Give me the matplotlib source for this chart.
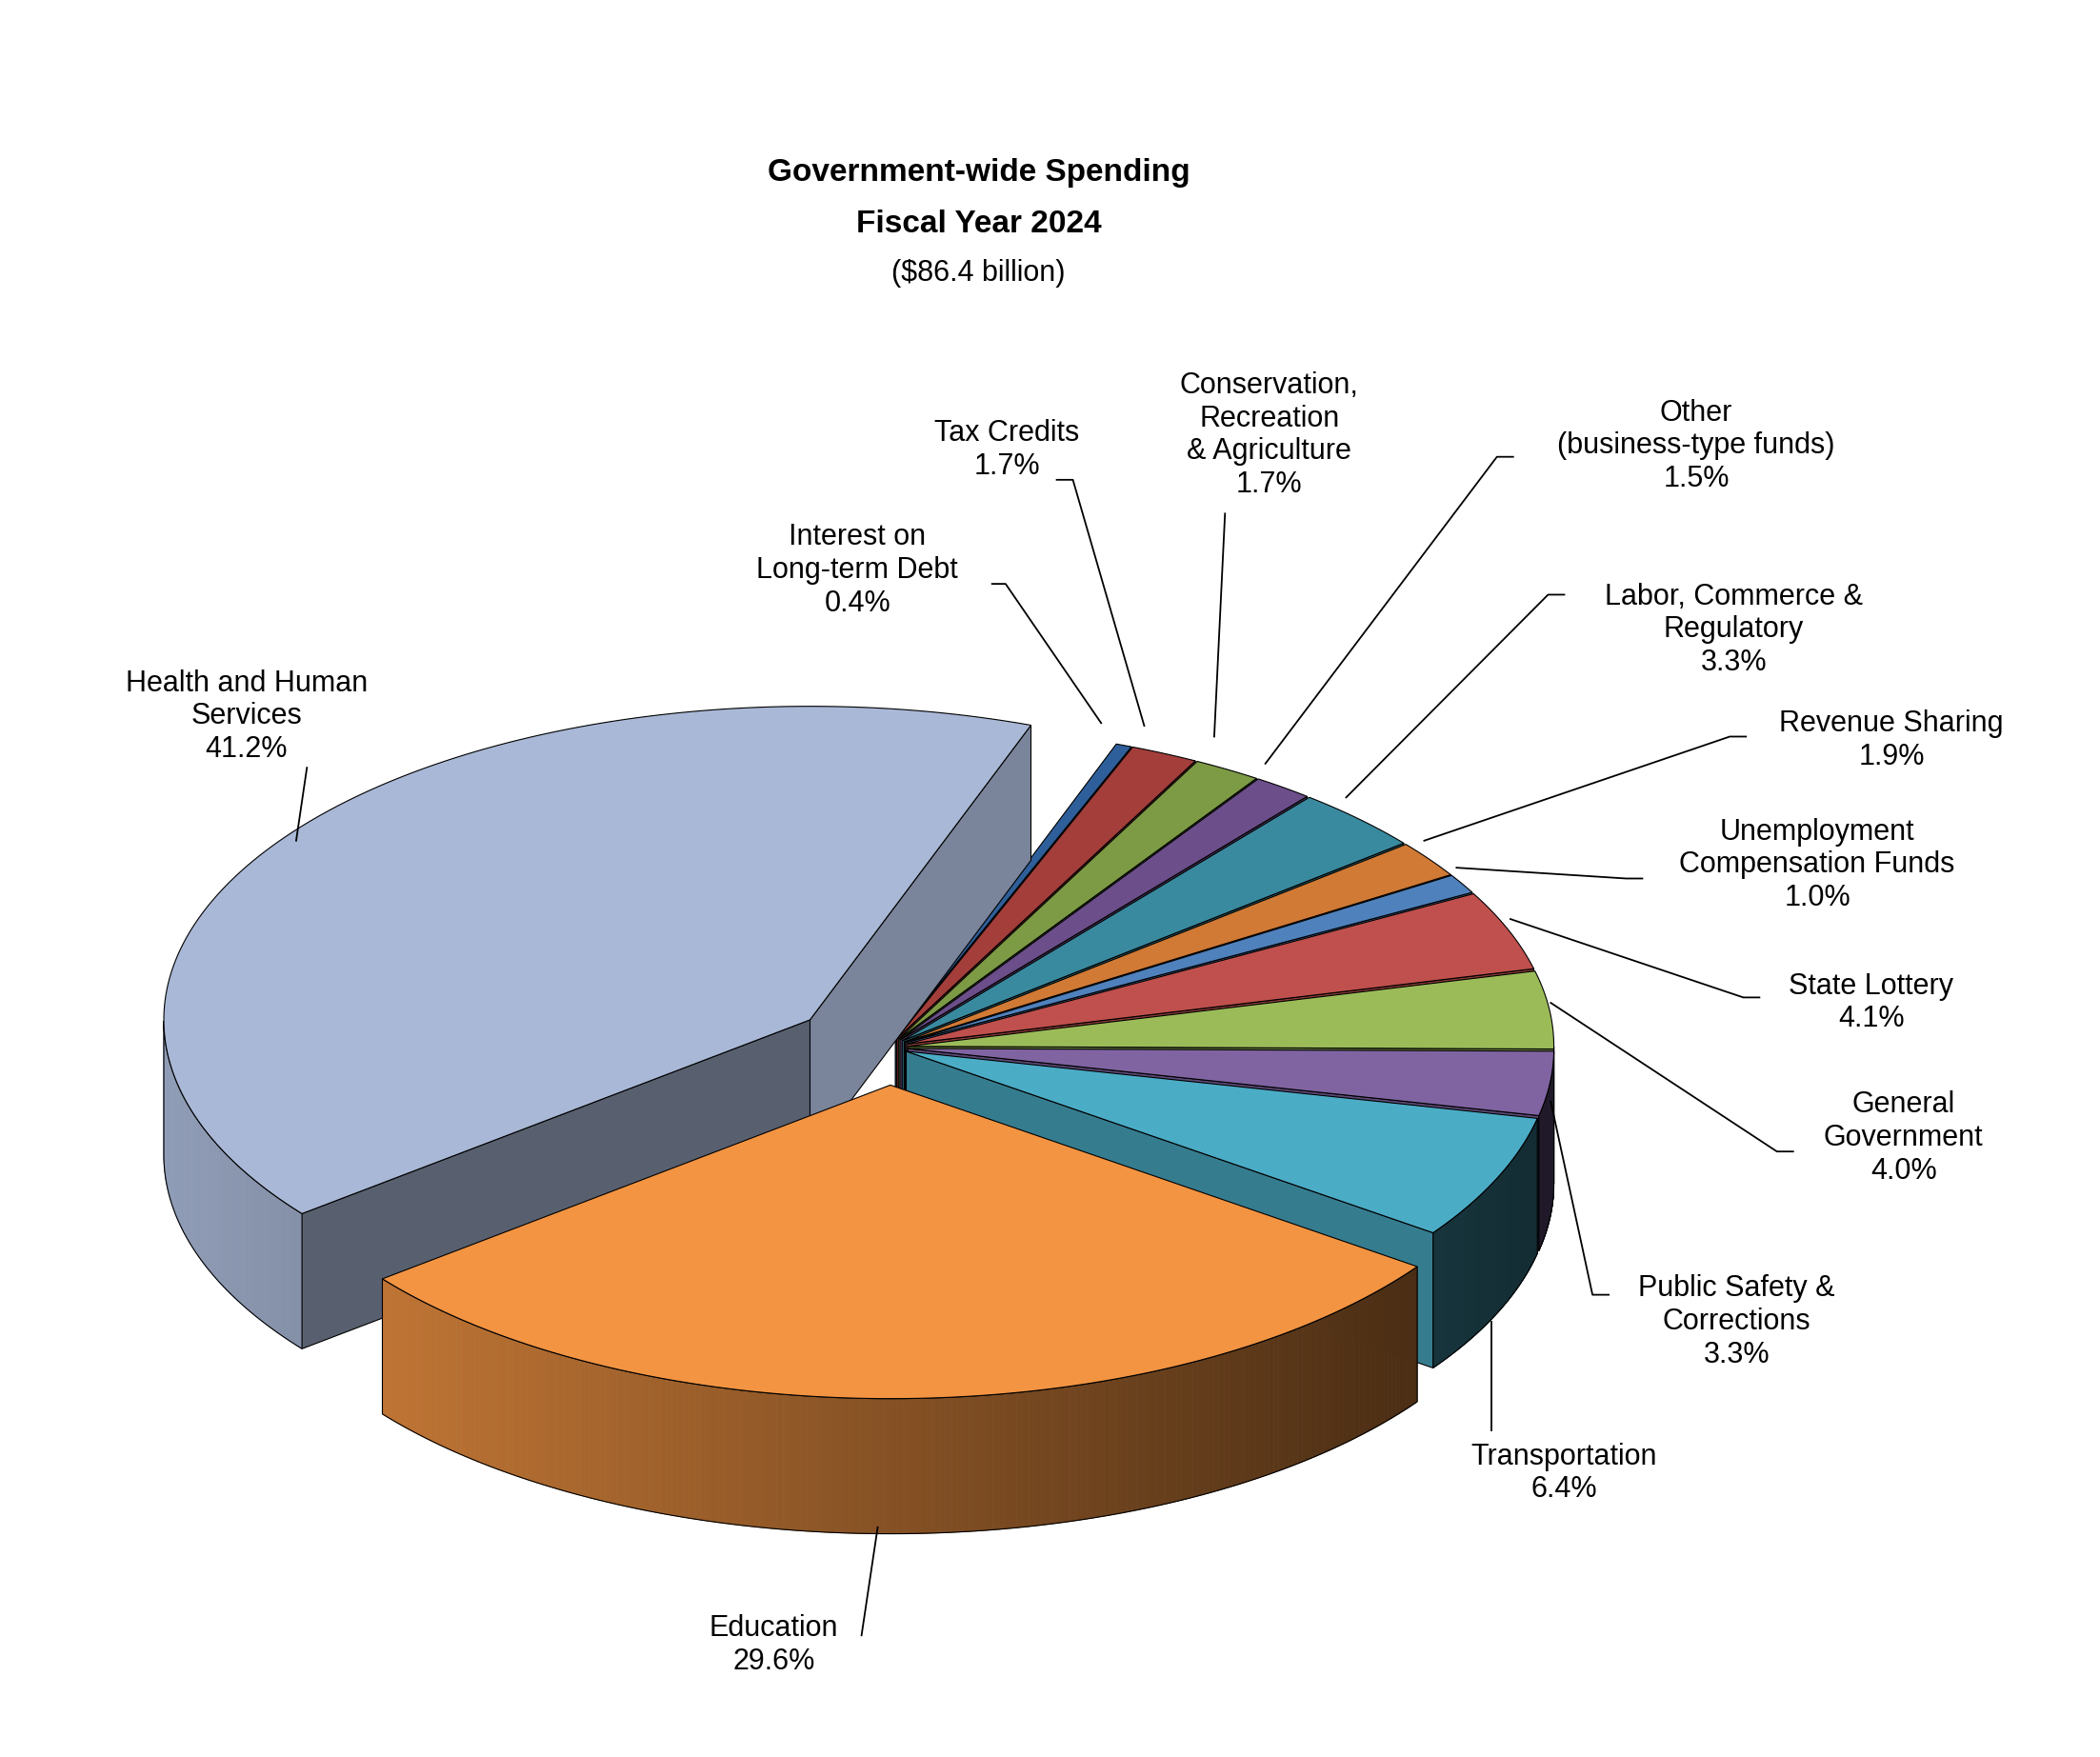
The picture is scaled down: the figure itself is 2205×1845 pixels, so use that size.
import numpy as np
import matplotlib.pyplot as plt
from matplotlib.patches import Polygon
from matplotlib.colors import to_rgb

plt.rcParams['font.family'] = 'Liberation Sans'

# === DATA ===
labels = ["Health and Human\nServices", "Education", "Transportation",
          "Public Safety &\nCorrections", "General\nGovernment", "State Lottery",
          "Unemployment\nCompensation Funds", "Revenue Sharing",
          "Labor, Commerce &\nRegulatory", "Other\n(business-type funds)",
          "Conservation,\nRecreation\n& Agriculture", "Tax Credits",
          "Interest on\nLong-term Debt"]
shares = [41.2, 29.6, 6.4, 3.3, 4.0, 4.1, 1.0, 1.9, 3.3, 1.5, 1.7, 1.7, 0.4]
colors = ["#A9B8D6", "#F39442", "#4BACC6", "#8064A2", "#9BBB59", "#C0504D",
          "#4F81BD", "#D07A35", "#3A8A9F", "#6B4E8A", "#7D9A45", "#A33E3B", "#2F5F9A"]
explode = [0.15, 0.12, 0.03, 0.03, 0.03, 0.03, 0.03, 0.03, 0.03, 0.03, 0.03, 0.03, 0.03]

# label text centre and leader line (display coords of a 1560x1300 canvas)
label_pos = [(183, 530), (575, 1217), (1162, 1090), (1290, 978), (1414, 842),
             (1390, 742), (1350, 640), (1405, 548), (1288, 466), (1260, 330),
             (943, 322), (748, 333), (637, 422)]
leaders = [[(228, 568), (220, 622)],
           [(640, 1210), (652, 1130)],
           [(1108, 1058), (1108, 978)],
           [(1195, 958), (1183, 958), (1152, 815)],
           [(1332, 852), (1320, 852), (1152, 742)],
           [(1307, 738), (1295, 738), (1122, 680)],
           [(1220, 650), (1208, 650), (1082, 642)],
           [(1297, 545), (1285, 545), (1058, 622)],
           [(1162, 440), (1150, 440), (1000, 590)],
           [(1124, 338), (1112, 338), (940, 565)],
           [(910, 380), (902, 545)],
           [(785, 355), (797, 355), (850, 537)],
           [(737, 432), (747, 432), (818, 535)]]

CX, CY, RX, RY, DEPTH = 660, 775, 480, 232, 100
START = 70.0

fig = plt.figure(figsize=(22.05, 18.45), dpi=100)
ax = fig.add_axes([0, 0, 1, 1])
ax.set_xlim(0, 1560)
ax.set_ylim(1300, 0)
ax.axis('off')


def shade(c, f):
    return tuple(min(1, v * f) for v in to_rgb(c))


def pt(cx, cy, t):
    return cx + RX * np.cos(t), cy - RY * np.sin(t)


slices = []
a = START
for i, s in enumerate(shares):
    d = s / sum(shares) * 360
    slices.append((i, a, a + d))
    a += d

# back to front
order = sorted(slices, key=lambda z: -np.sin(np.radians((z[1] + z[2]) / 2)))
kw = dict(ec='black', lw=0.8)
for i, a1, a2 in order:
    mid = np.radians((a1 + a2) / 2)
    cx = CX + explode[i] * RX * np.cos(mid)
    cy = CY - explode[i] * RY * np.sin(mid)
    t1, t2 = np.radians(a1), np.radians(a2)
    col = colors[i]
    # cut walls
    for t, vis, f in [(t1, np.cos(t1) > 0, 0.72), (t2, np.cos(t2) < 0, 0.52)]:
        if vis:
            x, y = pt(cx, cy, t)
            ax.add_patch(Polygon([(cx, cy), (x, y), (x, y + DEPTH), (cx, cy + DEPTH)],
                                 fc=shade(col, f), **kw))
    # outer wall (front half only), shaded strips
    ts = np.linspace(t1, t2, 200)
    front = np.sin(ts) < 0
    if front.any():
        tv = ts[front]
        for k in range(len(tv) - 1):
            xa, ya = pt(cx, cy, tv[k])
            xb, yb = pt(cx, cy, tv[k + 1])
            f = 0.55 - 0.3 * np.cos((tv[k] + tv[k + 1]) / 2)
            ax.add_patch(Polygon([(xa, ya), (xb, yb), (xb, yb + DEPTH), (xa, ya + DEPTH)],
                                 fc=shade(col, f), ec=shade(col, f), lw=0.6))
        xs, ys = pt(cx, cy, tv)
        outline = list(zip(xs, ys)) + list(zip(xs[::-1], ys[::-1] + DEPTH))
        ax.add_patch(Polygon(outline, fill=False, **kw))
    # top face
    xs, ys = pt(cx, cy, ts)
    ax.add_patch(Polygon([(cx, cy)] + list(zip(xs, ys)), fc=col, **kw))

for i, lab in enumerate(labels):
    x, y = label_pos[i]
    ax.text(x, y, f"{lab}\n{shares[i]:.1f}%", ha='center', va='center',
            fontsize=22, linespacing=1.2)
    lx, ly = zip(*leaders[i])
    ax.plot(lx, ly, color='black', lw=1.3)

ax.text(727, 128, "Government-wide Spending", ha='center', va='center',
        fontsize=24, fontweight='bold')
ax.text(727, 166, "Fiscal Year 2024", ha='center', va='center',
        fontsize=24, fontweight='bold')
ax.text(727, 202, "($86.4 billion)", ha='center', va='center', fontsize=22)

fig.savefig("out.png", dpi=100)
